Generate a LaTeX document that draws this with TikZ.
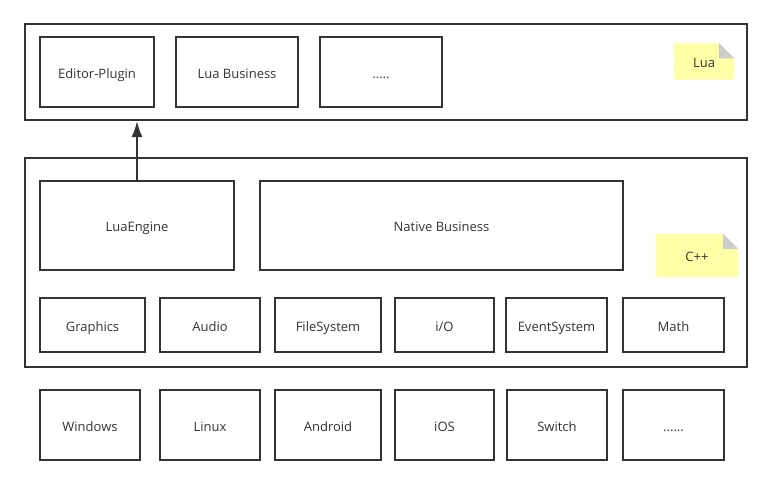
\documentclass[tikz,border=0pt]{standalone}
\usepackage{fontspec}
\setmainfont{Open Sans}
\usepackage{tikz}
\usetikzlibrary{arrows.meta,calc}
\definecolor{ink}{HTML}{333333}
\definecolor{notey}{HTML}{FFFFA8}
\definecolor{foldg}{HTML}{CCCCCC}
\tikzstyle{layer}=[rectangle, draw = ink, line width = 2pt, inner sep = 0pt]
\tikzstyle{mod}=[rectangle, draw = ink, line width = 2pt, text = ink, font = \fontsize{13}{15}\selectfont, inner sep = 0pt, text height = 12pt, text depth = 0pt]
\tikzstyle{note}=[rectangle, text = ink, font = \fontsize{13}{15}\selectfont, inner sep = 0pt, text height = 12pt, text depth = 0pt]
\tikzstyle{uplink}=[draw = ink, line width = 2pt, -{Latex[length=16pt, width=11pt]}]

\begin{document}
\begin{tikzpicture}[x=1pt, y=-1pt]
  \useasboundingbox (0,0) rectangle (772,485);
  % script layer
  \node[layer, minimum width = 722, minimum height = 96] (lualayer) at (386,72) {};
  \node[mod, minimum width = 114, minimum height = 70] (editor) at (97,72) {Editor-Plugin};
  \node[mod, minimum width = 122, minimum height = 70] (luabiz) at (237,72) {Lua Business};
  \node[mod, minimum width = 122, minimum height = 70] (luamore) at (381,72) {.....};
  \node[note, minimum width = 60, minimum height = 36] (luanote) at (704,61.5) {};
  % native layer
  \node[layer, minimum width = 722, minimum height = 209] (cpplayer) at (386,262.5) {};
  \node[mod, minimum width = 194, minimum height = 89] (engine) at (137,225.5) {LuaEngine};
  \node[mod, minimum width = 363, minimum height = 89] (nativebiz) at (441.5,225.5) {Native Business};
  \node[note, minimum width = 82, minimum height = 43] (cppnote) at (697,255.5) {};
  \node[mod, minimum width = 105, minimum height = 54] (graphics) at (92.5,325) {Graphics};
  \node[mod, minimum width = 100, minimum height = 54] (audio) at (210,325) {Audio};
  \node[mod, minimum width = 106, minimum height = 54] (files) at (328,325) {FileSystem};
  \node[mod, minimum width = 99, minimum height = 54] (io) at (444.5,325) {i/O};
  \node[mod, minimum width = 101, minimum height = 54] (events) at (556.5,325) {EventSystem};
  \node[mod, minimum width = 101, minimum height = 54] (math) at (673.5,325) {Math};
  % platforms
  \node[mod, minimum width = 100, minimum height = 70] (windows) at (90,425) {Windows};
  \node[mod, minimum width = 100, minimum height = 70] (linux) at (210,425) {Linux};
  \node[mod, minimum width = 106, minimum height = 70] (android) at (328,425) {Android};
  \node[mod, minimum width = 99, minimum height = 70] (ios) at (444.5,425) {iOS};
  \node[mod, minimum width = 100, minimum height = 70] (switch) at (557,425) {Switch};
  \node[mod, minimum width = 101, minimum height = 70] (platmore) at (673.5,425) {......};
  % sticky notes
  \fill[notey] (luanote.north west) -- ($(luanote.north east)+(-15,0)$) -- ($(luanote.north east)+(0,15)$) -- (luanote.south east) -- (luanote.south west) -- cycle;
  \fill[foldg] ($(luanote.north east)+(-15,0)$) -- ($(luanote.north east)+(0,15)$) -- ($(luanote.north east)+(-15,15)$) -- cycle;
  \fill[notey] (cppnote.north west) -- ($(cppnote.north east)+(-15,0)$) -- ($(cppnote.north east)+(0,15)$) -- (cppnote.south east) -- (cppnote.south west) -- cycle;
  \fill[foldg] ($(cppnote.north east)+(-15,0)$) -- ($(cppnote.north east)+(0,15)$) -- ($(cppnote.north east)+(-15,15)$) -- cycle;
  \node[note] (luatxt) at (luanote) {Lua};
  \node[note] (cpptxt) at (cppnote) {C++};
  % binding
  \draw[uplink] (engine.north) -- (engine.north |- lualayer.south);
\end{tikzpicture}
\end{document}
